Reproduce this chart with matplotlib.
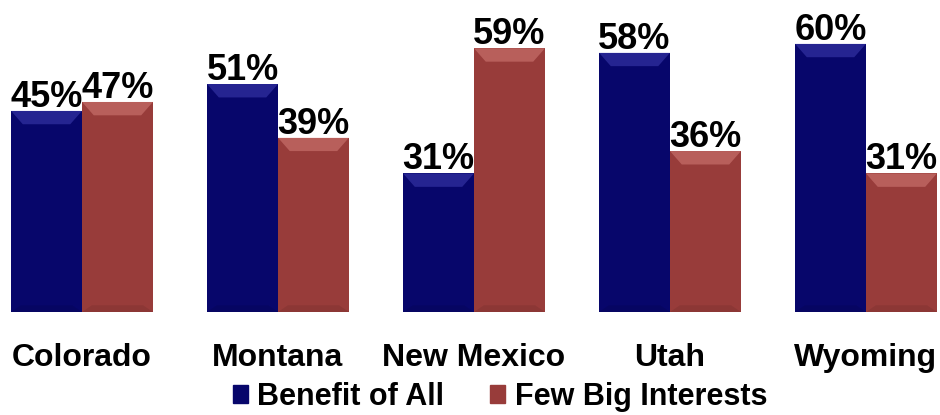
import matplotlib.pyplot as plt
from matplotlib.patches import Patch, Polygon
import numpy as np

states = ['Colorado', 'Montana', 'New Mexico', 'Utah', 'Wyoming']
benefit_all = [45, 51, 31, 58, 60]
few_big = [47, 39, 59, 36, 31]
series_names = ['Benefit of All', 'Few Big Interests']

blue = '#07066b'
blue_hi = '#4a4ac0'
red = '#983c3a'
red_hi = '#e08a85'

plt.rcParams['font.family'] = ['Liberation Sans', 'DejaVu Sans']
plt.rcParams['font.weight'] = 'bold'

fig = plt.figure(figsize=(9.4, 4.15), dpi=100)
ax = fig.add_axes([0, 1 - 312 / 415, 1, 312 / 415])

x = np.arange(len(states))
w = 0.362
b1 = ax.bar(x - w / 2, benefit_all, w, color=blue)
b2 = ax.bar(x + w / 2, few_big, w, color=red)

# soft bevel at the top and bottom of each bar
bev = 3.0
for bars, hi in ((b1, blue_hi), (b2, red_hi)):
    for p in bars:
        x0, x1, top = p.get_x(), p.get_x() + p.get_width(), p.get_height()
        ax.add_patch(Polygon([(x0, top), (x1, top), (x1 - 0.06, top - bev), (x0 + 0.06, top - bev)],
                             closed=True, color=hi, alpha=0.45, lw=0))
        ax.add_patch(Polygon([(x0, 0), (x1, 0), (x1 - 0.05, bev * 0.5), (x0 + 0.05, bev * 0.5)],
                             closed=True, color='black', alpha=0.08, lw=0))

for bars in (b1, b2):
    for p in bars:
        ax.annotate(f'{int(p.get_height())}%', (p.get_x() + p.get_width() / 2, p.get_height()),
                    xytext=(0, 3), textcoords='offset points', ha='center', va='baseline',
                    fontsize=26, fontweight='bold')

ax.set_xlim(-82 / 196, (940 - 82) / 196)
ax.set_ylim(0, 312 / 4.47)
ax.set_xticks(x)
ax.set_xticklabels(states, fontsize=23, fontweight='bold')
ax.tick_params(axis='x', length=0, pad=22)
ax.set_yticks([])
for s in ax.spines.values():
    s.set_visible(False)

handles = [Patch(color=blue), Patch(color=red)]
fig.legend(handles, series_names, loc='center', bbox_to_anchor=(500 / 940, 1 - 397 / 415), ncol=2,
           frameon=False, fontsize=22, handlelength=0.5, handleheight=0.5, handletextpad=0.3,
           columnspacing=1.5, borderpad=0)

fig.savefig('out.png', dpi=100)
